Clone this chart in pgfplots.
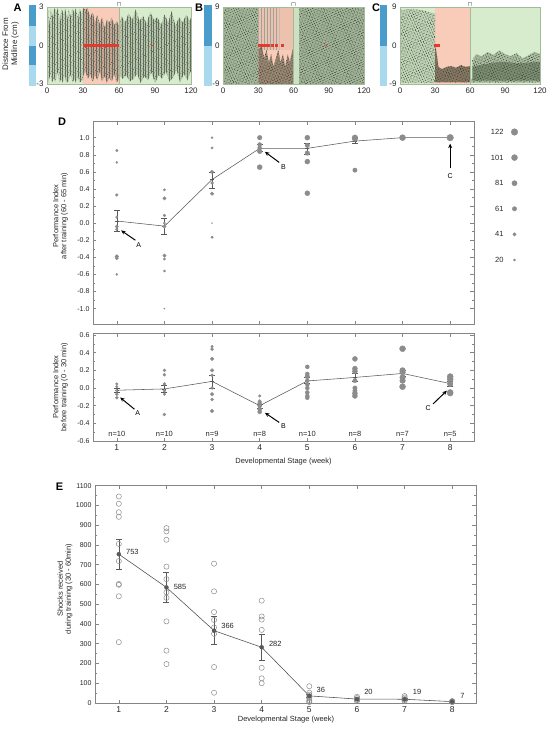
\documentclass[border=0pt]{standalone}
\usepackage{pgfplots}
\pgfplotsset{compat=1.18}
\usepackage{fontspec}
\setmainfont{Liberation Sans}
\usetikzlibrary{patterns,patterns.meta,arrows.meta}
\definecolor{bggreen}{HTML}{D7EBCD}
\definecolor{bgred}{HTML}{F9CBB9}
\definecolor{frameg}{HTML}{A3BA9B}
\definecolor{dotdark}{HTML}{26331F}
\definecolor{blueD}{HTML}{4A9CCB}
\definecolor{blueL}{HTML}{A8D9EE}
\definecolor{dotgray}{HTML}{8C8C8C}
\definecolor{axgray}{HTML}{858585}
\definecolor{shockred}{HTML}{E23A2E}
\newcommand{\fs}[1]{\fontsize{#1}{#1}\selectfont}
\tikzset{ann/.style={-{Stealth[length=4.5pt,width=4pt]}, line width=1pt, black}}

\pgfplotsset{
  trace/.style={scale only axis, anchor=south west, height=77pt,
    xmin=0, xmax=120, xtick={0,30,60,90,120},
    axis line style={frameg, line width=0.9pt},
    major tick length=0pt, clip=false, axis on top,
    tick label style={font=\fs{8}, text=black!85},
    /pgf/number format/assume math mode=true},
  dax/.style={scale only axis, anchor=south west, width=381pt,
    xmin=0.5, xmax=8.5, xtick={1,...,8}, clip=false,
    axis line style={axgray, line width=0.6pt},
    tick style={axgray, line width=0.5pt},
    tick align=inside, major tick length=3.5pt, minor tick length=2pt,
    tick label style={font=\fs{7}, text=black!85},
    /pgf/number format/assume math mode=true,
    /pgf/number format/1000 sep={}},
  sizedots/.style={dotgray, scatter, only marks, mark=*,
    mark options={draw=none, fill=dotgray},
    scatter/use mapped color={draw=none, fill=dotgray},
    visualization depends on={\thisrow{s} \as \ms},
    scatter/@pre marker code/.append style={/tikz/mark size=\ms}},
  meanline/.style={black!65, line width=0.55pt, mark=none},
  ebar/.style={black!65, only marks, mark=-, mark size=2pt, forget plot,
    error bars/y dir=both, error bars/y explicit,
    error bars/error bar style={line width=0.5pt},
    error bars/error mark options={rotate=90, line width=0.5pt, mark size=3pt}},
  tone/.style={draw=none, fill=dotdark, fill opacity=#1},
  speck/.style={draw=none, pattern={Dots[distance=2.4pt, angle=25, radius=0.42pt]}, pattern color=dotdark,
    postaction={pattern={Dots[distance=2.9pt, angle=70, radius=0.38pt, xshift=1.1pt, yshift=0.7pt]}, pattern color=dotdark}},
  vlin/.style={draw=none, pattern={Lines[angle=90, distance=2.6pt, line width=0.25pt]}, pattern color=dotdark!70,
    postaction={pattern={Dots[distance=2.5pt, angle=60, radius=0.38pt, xshift=1pt]}, pattern color=dotdark}},
}

\begin{document}
\begin{tikzpicture}
\useasboundingbox (0pt,0pt) rectangle (549pt,-729pt);

% ---------------- Panel A ----------------
\begin{axis}[trace, at={(47pt,-84pt)}, width=144pt, ymin=-3, ymax=3,
  ytick={-3,0,3}, yticklabels={-3,0,3}]
\addplot[draw=none, fill=bggreen] coordinates {(0,-3)(30,-3)(30,3)(0,3)};
\addplot[draw=none, fill=bgred] coordinates {(30,-3)(60,-3)(60,3)(30,3)};
\addplot[draw=none, fill=bggreen] coordinates {(60,-3)(120,-3)(120,3)(60,3)};
\addplot[draw=none, fill=blueD] coordinates {(-15,3.16)(-9.2,3.16)(-9.2,1.5)(-15,1.5)};
\addplot[draw=none, fill=blueL] coordinates {(-15,1.5)(-9.2,1.5)(-9.2,0)(-15,0)};
\addplot[draw=none, fill=blueD] coordinates {(-15,0)(-9.2,0)(-9.2,-1.5)(-15,-1.5)};
\addplot[draw=none, fill=blueL] coordinates {(-15,-1.5)(-9.2,-1.5)(-9.2,-3.16)(-15,-3.16)};
% 0-30
\addplot[tone=0.12] coordinates {(0,2.0)(1,2.9)(2,1.5)(3,2.9)(5,2.2)(6,2.9)(8,2.6)(9,2.9)(11,1.8)(12,2.9)(14,2.4)(15,2.9)(17,2.0)(18,2.9)(20,2.2)(21,2.9)(23,2.5)(24,2.9)(26,2.0)(27,2.9)(29,2.4)(30,2.9)
 (30,-2.7)(27,-2.9)(26,-2.4)(24,-2.9)(23,-2.6)(21,-2.9)(20,-2.2)(18,-2.8)(16,-2.9)(15,-2.3)(13,-2.9)(12,-2.6)(10,-2.9)(9,-2.0)(7,-2.9)(6,-2.5)(4,-2.9)(3,-2.2)(1,-2.9)(0,-1.2)};
\addplot[vlin] coordinates {(0,2.0)(1,2.9)(2,1.5)(3,2.9)(5,2.2)(6,2.9)(8,2.6)(9,2.9)(11,1.8)(12,2.9)(14,2.4)(15,2.9)(17,2.0)(18,2.9)(20,2.2)(21,2.9)(23,2.5)(24,2.9)(26,2.0)(27,2.9)(29,2.4)(30,2.9)
 (30,-2.7)(27,-2.9)(26,-2.4)(24,-2.9)(23,-2.6)(21,-2.9)(20,-2.2)(18,-2.8)(16,-2.9)(15,-2.3)(13,-2.9)(12,-2.6)(10,-2.9)(9,-2.0)(7,-2.9)(6,-2.5)(4,-2.9)(3,-2.2)(1,-2.9)(0,-1.2)};
% 30-60
\addplot[tone=0.22] coordinates {(30,2.9)(32,2.8)(34,2.9)(36,2.2)(38,2.6)(40,1.8)(42,2.4)(44,1.6)(46,2.2)(48,1.4)(50,2.0)(52,1.8)(54,2.2)(56,1.6)(58,1.9)(60,1.5)
 (60,-2.6)(58,-2.9)(56,-2.2)(54,-2.8)(52,-2.5)(50,-2.9)(48,-2.4)(46,-2.8)(44,-2.0)(42,-2.7)(40,-2.3)(38,-2.8)(36,-2.2)(34,-2.6)(32,-2.0)(30,-2.4)};
\addplot[vlin] coordinates {(30,2.9)(32,2.8)(34,2.9)(36,2.2)(38,2.6)(40,1.8)(42,2.4)(44,1.6)(46,2.2)(48,1.4)(50,2.0)(52,1.8)(54,2.2)(56,1.6)(58,1.9)(60,1.5)
 (60,-2.6)(58,-2.9)(56,-2.2)(54,-2.8)(52,-2.5)(50,-2.9)(48,-2.4)(46,-2.8)(44,-2.0)(42,-2.7)(40,-2.3)(38,-2.8)(36,-2.2)(34,-2.6)(32,-2.0)(30,-2.4)};
% 60-120
\addplot[tone=0.18] coordinates {(60,1.5)(62,2.3)(65,1.8)(68,2.5)(71,2.0)(74,2.8)(77,1.9)(80,2.3)(83,1.7)(86,2.6)(89,2.0)(92,2.2)(95,1.6)(98,2.4)(101,1.8)(104,2.7)(107,1.5)(110,2.2)(113,1.8)(116,2.4)(119,1.9)(120,2.2)
 (120,-2.0)(117,-2.7)(114,-2.2)(111,-2.9)(108,-1.9)(105,-2.5)(102,-2.8)(99,-2.0)(96,-2.6)(93,-2.3)(90,-2.9)(87,-2.1)(84,-2.7)(81,-2.4)(78,-2.9)(75,-2.2)(72,-2.6)(69,-2.8)(66,-2.3)(63,-2.6)(60,-2.2)};
\addplot[vlin] coordinates {(60,1.5)(62,2.3)(65,1.8)(68,2.5)(71,2.0)(74,2.8)(77,1.9)(80,2.3)(83,1.7)(86,2.6)(89,2.0)(92,2.2)(95,1.6)(98,2.4)(101,1.8)(104,2.7)(107,1.5)(110,2.2)(113,1.8)(116,2.4)(119,1.9)(120,2.2)
 (120,-2.0)(117,-2.7)(114,-2.2)(111,-2.9)(108,-1.9)(105,-2.5)(102,-2.8)(99,-2.0)(96,-2.6)(93,-2.3)(90,-2.9)(87,-2.1)(84,-2.7)(81,-2.4)(78,-2.9)(75,-2.2)(72,-2.6)(69,-2.8)(66,-2.3)(63,-2.6)(60,-2.2)};
\addplot[frameg, line width=0.8pt] coordinates {(60,-3)(60,3)};
\addplot[shockred, line width=2.2pt] coordinates {(30,0)(60,0)};
\addplot[shockred, only marks, mark=x, mark size=1.5pt] coordinates {(88,0)};
\node[anchor=south, inner sep=0.3pt, font=\fs{6}] at (rel axis cs:0.5,1) {$\sqcap$};
\end{axis}

% ---------------- Panel B ----------------
\begin{axis}[trace, at={(223pt,-84pt)}, width=141pt, ymin=-9, ymax=9,
  ytick={-9,0,9}, yticklabels={-9,0,9}]
\addplot[draw=none, fill=bggreen] coordinates {(0,-9)(30,-9)(30,9)(0,9)};
\addplot[draw=none, fill=bgred] coordinates {(30,-9)(60,-9)(60,9)(30,9)};
\addplot[draw=none, fill=bggreen] coordinates {(60,-9)(120,-9)(120,9)(60,9)};
\addplot[draw=none, fill=blueD] coordinates {(-16.2,9.47)(-9.4,9.47)(-9.4,0)(-16.2,0)};
\addplot[draw=none, fill=blueL] coordinates {(-16.2,0)(-9.4,0)(-9.4,-9.47)(-16.2,-9.47)};
\addplot[tone=0.28] coordinates {(0,8.8)(30,8.8)(30,-9)(0,-9)};
\addplot[speck] coordinates {(0,8.8)(30,8.8)(30,-9)(0,-9)};
\addplot[tone=0.06] coordinates {(30,9)(60,9)(60,-1)(30,-1)};
\addplot[draw=none, pattern={Lines[angle=90, distance=3pt, line width=0.3pt]}, pattern color=dotdark!45] coordinates {(30,9)(48,9)(48,-1)(30,-1)};
\addplot[tone=0.45] coordinates {(30,-1)(33,0)(35,-3)(37,-1)(39,-4)(41,-2)(43,-5)(45,-3)(47,-1)(49,-4)(51,-2)(53,-5)(55,-2)(57,-4)(59,-1)(60,-1)(60,-9)(30,-9)};
\addplot[speck] coordinates {(30,-1)(33,0)(35,-3)(37,-1)(39,-4)(41,-2)(43,-5)(45,-3)(47,-1)(49,-4)(51,-2)(53,-5)(55,-2)(57,-4)(59,-1)(60,-1)(60,-9)(30,-9)};
\addplot[tone=0.06] coordinates {(60,9)(65,9)(65,-9)(60,-9)};
\addplot[tone=0.3] coordinates {(65,8.8)(120,8.8)(120,-9)(65,-9)};
\addplot[speck] coordinates {(65,8.8)(120,8.8)(120,-9)(65,-9)};
\addplot[frameg, line width=0.8pt] coordinates {(60,-9)(60,9)};
\addplot[shockred, line width=2.2pt] coordinates {(30,0)(40,0)};
\addplot[shockred, only marks, mark=square*, mark size=1pt] coordinates {(42,0)(45,0)(50,0)};
\addplot[shockred, only marks, mark=x, mark size=1.5pt] coordinates {(88,0)};
\node[anchor=south, inner sep=0.3pt, font=\fs{6}] at (rel axis cs:0.5,1) {$\sqcap$};
\end{axis}

% ---------------- Panel C ----------------
\begin{axis}[trace, at={(400pt,-84pt)}, width=140pt, ymin=-9, ymax=9,
  ytick={-9,0,9}, yticklabels={-9,0,9}]
\addplot[draw=none, fill=bggreen] coordinates {(0,-9)(30,-9)(30,9)(0,9)};
\addplot[draw=none, fill=bgred] coordinates {(30,-9)(60,-9)(60,9)(30,9)};
\addplot[draw=none, fill=bggreen] coordinates {(60,-9)(120,-9)(120,9)(60,9)};
\addplot[draw=none, fill=blueD] coordinates {(-17.1,9.47)(-11.1,9.47)(-11.1,0)(-17.1,0)};
\addplot[draw=none, fill=blueL] coordinates {(-17.1,0)(-11.1,0)(-11.1,-9.47)(-17.1,-9.47)};
\addplot[tone=0.12] coordinates {(0,8.3)(10,8.6)(20,8.2)(30,7.5)(30,-8.8)(0,-8.8)};
\addplot[speck] coordinates {(0,8.3)(10,8.6)(20,8.2)(30,7.5)(30,-8.8)(0,-8.8)};
\addplot[tone=0.55] coordinates {(30,0)(31,-1)(32,-3)(33,-5)(36,-5.5)(40,-5)(44,-4.8)(48,-5.2)(52,-4.6)(56,-5)(60,-4.8)(60,-8.6)(30,-8.6)};
\addplot[speck] coordinates {(30,0)(31,-1)(32,-3)(33,-5)(36,-5.5)(40,-5)(44,-4.8)(48,-5.2)(52,-4.6)(56,-5)(60,-4.8)(60,-8.6)(30,-8.6)};
\addplot[tone=0.25] coordinates {(60,-7.8)(62,-7.8)(62,-3.5)(65,-2)(70,-2.5)(75,-1.5)(80,-2.2)(85,-1.2)(90,-2)(95,-2.5)(100,-1.8)(105,-3)(110,-2.3)(115,-1.5)(120,-2)(120,-8.7)(60,-8.7)};
\addplot[speck] coordinates {(62,-3.5)(65,-2)(70,-2.5)(75,-1.5)(80,-2.2)(85,-1.2)(90,-2)(95,-2.5)(100,-1.8)(105,-3)(110,-2.3)(115,-1.5)(120,-2)(120,-8.7)(62,-8.7)};
\addplot[tone=0.35] coordinates {(62,-5)(70,-4.5)(80,-4)(90,-3.8)(100,-4.2)(110,-4)(120,-3.8)(120,-8.2)(62,-8.2)};
\addplot[frameg, line width=0.8pt] coordinates {(60,-9)(60,9)};
\addplot[shockred, only marks, mark=square*, mark size=1pt] coordinates {(30.5,0)(32.5,0)};
\node[anchor=south, inner sep=0.3pt, font=\fs{6}] at (rel axis cs:0.5,1) {$\sqcap$};
\end{axis}

\node[font=\bfseries\fs{11}] at (17.5pt,-8pt) {A};
\node[font=\bfseries\fs{11}] at (199pt,-8pt) {B};
\node[font=\bfseries\fs{11}] at (376pt,-8pt) {C};
\node[rotate=90, align=center, font=\fs{8}, text=black!85] at (10.5pt,-44pt) {Distance From\\[1pt]Midline (cm)};

% ---------------- Panel D upper ----------------
\begin{axis}[dax, at={(93pt,-324pt)}, height=203pt, ymin=-1.18, ymax=1.195,
  ytick={-1,-0.8,...,1.01}, minor y tick num=1, xticklabels={},
  yticklabel style={/pgf/number format/.cd, fixed, fixed zerofill, precision=1}]
\addplot[meanline] coordinates {(1,0.025)(2,-0.035)(3,0.51)(4,0.875)(5,0.875)(6,0.96)(7,1.0)(8,1.0)};
\addplot[ebar] coordinates {(1,0.025) += (0,0.13) -= (0,0.125)
 (2,-0.035) += (0,0.095) -= (0,0.095)
 (3,0.51) += (0,0.09) -= (0,0.1)
 (4,0.875) += (0,0.045) -= (0,0.035)
 (5,0.875) += (0,0.055) -= (0,0.065)
 (6,0.96) += (0,0.03) -= (0,0.03)};
\addplot[sizedots] table {
x y s
1 0.85 1.2
1 0.71 1.0
1 0.33 1.4
1 0.07 1.2
1 -0.04 1.7
1 -0.07 1.4
1 -0.39 1.9
1 -0.41 1.7
1 -0.60 1.0
2 0.39 1.2
2 0.29 1.7
2 0.09 1.4
2 0.00 1.1
2 -0.04 1.7
2 -0.38 1.7
2 -0.42 1.2
2 -0.56 1.1
2 -1.00 0.6
3 1.00 1.0
3 0.88 1.2
3 0.60 1.7
3 0.47 1.5
3 0.345 1.8
3 0.00 0.5
3 -0.165 1.2
4 1.00 2.3
4 0.92 2.0
4 0.88 2.0
4 0.84 2.3
4 0.655 2.5
5 1.00 2.5
5 0.91 2.2
5 0.82 2.3
5 0.72 2.5
5 0.35 2.5
6 1.00 2.8
6 0.99 2.8
6 0.62 2.2
7 1.00 3.0
8 1.00 3.3
};
\draw[ann] (axis cs:1.39,-0.2) -- (axis cs:1.09,-0.085);
\node[font=\fs{7}] at (axis cs:1.46,-0.255) {A};
\draw[ann] (axis cs:4.41,0.71) -- (axis cs:4.11,0.835);
\node[font=\fs{7}] at (axis cs:4.5,0.655) {B};
\draw[ann] (axis cs:8,0.64) -- (axis cs:8,0.93);
\node[font=\fs{7}] at (axis cs:8,0.55) {C};
\end{axis}

% size legend
\begin{axis}[scale only axis, anchor=south west, at={(495pt,-260pt)}, width=30pt, height=128pt,
  xmin=0, xmax=1, ymin=0, ymax=5, hide axis, clip=false]
\addplot[sizedots] table {
x y s
0.65 5 3.3
0.65 4 3.0
0.65 3 2.6
0.65 2 2.2
0.65 1 1.7
0.65 0 1.2
};
\node[anchor=east, font=\fs{7.5}, text=black!85] at (axis cs:0.4,5) {122};
\node[anchor=east, font=\fs{7.5}, text=black!85] at (axis cs:0.4,4) {101};
\node[anchor=east, font=\fs{7.5}, text=black!85] at (axis cs:0.4,3) {81};
\node[anchor=east, font=\fs{7.5}, text=black!85] at (axis cs:0.4,2) {61};
\node[anchor=east, font=\fs{7.5}, text=black!85] at (axis cs:0.4,1) {41};
\node[anchor=east, font=\fs{7.5}, text=black!85] at (axis cs:0.4,0) {20};
\end{axis}

% ---------------- Panel D lower ----------------
\begin{axis}[dax, at={(93pt,-441pt)}, height=108pt, ymin=-0.6, ymax=0.623,
  ytick={-0.6,-0.4,...,0.61}, minor y tick num=1,
  xticklabel style={font=\fs{8.5}},
  yticklabel style={/pgf/number format/.cd, fixed, fixed zerofill, precision=1}]
\addplot[meanline] coordinates {(1,-0.025)(2,-0.01)(3,0.075)(4,-0.2)(5,0.08)(6,0.12)(7,0.165)(8,0.05)};
\addplot[ebar] coordinates {(1,-0.025) += (0,0.02) -= (0,0.02)
 (2,-0.01) += (0,0.04) -= (0,0.04)
 (3,0.075) += (0,0.075) -= (0,0.075)
 (4,-0.2) += (0,0.02) -= (0,0.025)
 (5,0.08) += (0,0.04) -= (0,0.03)
 (6,0.12) += (0,0.05) -= (0,0.04)
 (7,0.165) += (0,0.035) -= (0,0.035)
 (8,0.05) += (0,0.03) -= (0,0.03)};
\addplot[sizedots] table {
x y s
1 0.046 1.3
1 0.015 1.3
1 -0.03 1.3
1 -0.07 1.5
1 -0.11 1.5
2 0.20 1.5
2 0.15 1.5
2 0.046 1.5
2 -0.03 1.5
2 -0.07 1.3
2 -0.30 1.5
3 0.47 1.3
3 0.44 1.5
3 0.33 1.8
3 0.20 1.8
3 0.145 1.5
3 0.00 1.5
3 -0.07 1.8
3 -0.13 1.5
3 -0.26 1.8
4 -0.09 1.3
4 -0.15 1.8
4 -0.175 2.0
4 -0.20 2.0
4 -0.24 2.0
4 -0.27 2.0
5 0.24 2.0
5 0.16 2.0
5 0.13 2.2
5 0.084 2.0
5 0.04 2.0
5 0.00 2.0
5 -0.05 2.0
5 -0.09 2.0
5 -0.11 2.0
6 0.33 2.5
6 0.22 2.5
6 0.19 2.5
6 0.084 2.2
6 0.00 2.2
6 -0.03 2.2
6 -0.06 2.5
6 -0.09 2.5
7 0.445 3.0
7 0.20 2.8
7 0.18 2.8
7 0.12 2.8
7 0.084 2.8
7 0.015 3.0
8 0.13 3.0
8 0.10 3.0
8 0.046 2.8
8 -0.05 3.0
8 -0.06 2.8
};
\draw[ann] (axis cs:1.37,-0.24) -- (axis cs:1.07,-0.107);
\node[font=\fs{7}] at (axis cs:1.44,-0.28) {A};
\draw[ann] (axis cs:4.41,-0.39) -- (axis cs:4.11,-0.28);
\node[font=\fs{7}] at (axis cs:4.5,-0.43) {B};
\draw[ann] (axis cs:7.64,-0.18) -- (axis cs:7.93,-0.03);
\node[font=\fs{7}] at (axis cs:7.54,-0.23) {C};
\node[font=\fs{7.5}, text=black!85] at (axis cs:1,-0.525) {n=10};
\node[font=\fs{7.5}, text=black!85] at (axis cs:2,-0.525) {n=10};
\node[font=\fs{7.5}, text=black!85] at (axis cs:3,-0.525) {n=9};
\node[font=\fs{7.5}, text=black!85] at (axis cs:4,-0.525) {n=8};
\node[font=\fs{7.5}, text=black!85] at (axis cs:5,-0.525) {n=10};
\node[font=\fs{7.5}, text=black!85] at (axis cs:6,-0.525) {n=8};
\node[font=\fs{7.5}, text=black!85] at (axis cs:7,-0.525) {n=7};
\node[font=\fs{7.5}, text=black!85] at (axis cs:8,-0.525) {n=5};
\end{axis}

\node[font=\bfseries\fs{11}] at (62pt,-121.5pt) {D};
\node[rotate=90, align=center, font=\fs{7.5}, text=black!85] at (60.5pt,-216pt) {Performance Index\\[0.5pt]after training (60 - 65 min)};
\node[rotate=90, align=center, font=\fs{7.5}, text=black!85] at (60.5pt,-387pt) {Performance Index\\[0.5pt]before training (0 - 30 min)};
\node[font=\fs{7.5}, text=black!85] at (283.5pt,-462pt) {Developmental Stage (week)};

% ---------------- Panel E ----------------
\begin{axis}[dax, at={(95pt,-703pt)}, height=218pt, ymin=0, ymax=1103,
  ytick={0,100,...,1100}, minor y tick num=1,
  xticklabel style={font=\fs{8.5}}]
\addplot[dotgray, only marks, mark=o, mark size=2.6pt, mark options={line width=0.5pt}] coordinates {
 (1,1045)(1,1008)(1,965)(1,942)(1,805)(1,718)(1,602)(1,598)(1,540)(1,308)
 (2,885)(2,868)(2,826)(2,690)(2,627)(2,560)(2,532)(2,413)(2,265)(2,197)
 (3,705)(3,565)(3,460)(3,420)(3,382)(3,350)(3,182)(3,52)
 (4,518)(4,438)(4,422)(4,370)(4,178)(4,125)(4,100)
 (5,85)(5,52)(5,42)(5,35)(5,25)(5,15)(5,8)(5,5)
 (6,32)(6,25)(6,18)(6,15)(6,10)
 (7,35)(7,28)(7,20)(7,15)(7,10)
 (8,10)(8,8)(8,6)(8,4)};
\addplot[black!70, line width=0.55pt, mark=square*, mark size=0.7pt] coordinates {(1,753)(2,585)(3,366)(4,282)(5,36)(6,20)(7,19)(8,7)};
\addplot[ebar, mark=none] coordinates {(1,753) += (0,77) -= (0,75)
 (2,585) += (0,75) -= (0,75)
 (3,366) += (0,74) -= (0,71)
 (4,282) += (0,68) -= (0,67)
 (5,36) += (0,8) -= (0,8)
 (6,20) += (0,4) -= (0,4)
 (7,19) += (0,4) -= (0,4)
 (8,7) += (0,2) -= (0,2)};
\node[anchor=west, font=\fs{7.5}, text=black!85] at (axis cs:1.08,765) {753};
\node[anchor=west, font=\fs{7.5}, text=black!85] at (axis cs:2.08,589) {585};
\node[anchor=west, font=\fs{7.5}, text=black!85] at (axis cs:3.08,389) {366};
\node[anchor=west, font=\fs{7.5}, text=black!85] at (axis cs:4.08,300) {282};
\node[anchor=west, font=\fs{7.5}, text=black!85] at (axis cs:5.08,64) {36};
\node[anchor=west, font=\fs{7.5}, text=black!85] at (axis cs:6.08,56) {20};
\node[anchor=west, font=\fs{7.5}, text=black!85] at (axis cs:7.1,56) {19};
\node[anchor=west, font=\fs{7.5}, text=black!85] at (axis cs:8.1,36) {7};
\end{axis}

\node[font=\bfseries\fs{11}] at (59.5pt,-487pt) {E};
\node[rotate=90, align=center, font=\fs{7.5}, text=black!85] at (65pt,-589pt) {Shocks received\\[0.5pt]during training (30 - 60min)};
\node[font=\fs{7.5}, text=black!85] at (286pt,-720pt) {Developmental Stage (week)};
\end{tikzpicture}
\end{document}
